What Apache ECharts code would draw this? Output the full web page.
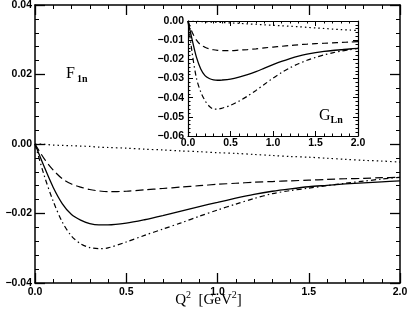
<!DOCTYPE html>
<html><head><meta charset="utf-8">
<script src="https://cdn.jsdelivr.net/npm/echarts@6/dist/echarts.min.js"></script>
<style>html,body{margin:0;padding:0;background:#fff}#c{width:411px;height:315px}</style>
</head><body><div id="c"></div>
<script>
// ---- Main panel: F1n ----
const qMain = [0, 0.05, 0.1, 0.15, 0.2, 0.25, 0.3, 0.35, 0.4, 0.5, 0.6, 0.7, 0.8, 0.9, 1.0, 1.1, 1.2, 1.3, 1.4, 1.5, 1.6, 1.7, 1.8, 1.9, 2.0];
const f1nSolid   = [0, -0.0065, -0.0125, -0.0172, -0.0203, -0.0219, -0.0229, -0.0233, -0.0233, -0.0228, -0.0218, -0.0206, -0.0193, -0.0180, -0.0168, -0.0156, -0.0145, -0.0136, -0.0129, -0.0123, -0.0119, -0.0115, -0.0112, -0.0109, -0.0106];
const f1nDashed  = [0, -0.0042, -0.0075, -0.0100, -0.0115, -0.0124, -0.0131, -0.0135, -0.0137, -0.0136, -0.0132, -0.0128, -0.0124, -0.0120, -0.0116, -0.0113, -0.0110, -0.0108, -0.0106, -0.0104, -0.0102, -0.0100, -0.0099, -0.0097, -0.0096];
const f1nDotted  = [0, -0.0001, -0.0003, -0.0004, -0.0005, -0.0006, -0.0007, -0.0009, -0.0010, -0.0012, -0.0015, -0.0017, -0.0020, -0.0022, -0.0025, -0.0027, -0.0030, -0.0033, -0.0036, -0.0038, -0.0041, -0.0044, -0.0047, -0.0049, -0.0052];
const f1nDashDot = [0, -0.0090, -0.0165, -0.0225, -0.0265, -0.0287, -0.0298, -0.0301, -0.0299, -0.0282, -0.0263, -0.0245, -0.0227, -0.0208, -0.0190, -0.0173, -0.0157, -0.0143, -0.0134, -0.0127, -0.0120, -0.0113, -0.0107, -0.0101, -0.0096];
// ---- Inset panel: GLn ----
const qInset = [0, 0.05, 0.1, 0.15, 0.2, 0.25, 0.3, 0.35, 0.4, 0.5, 0.6, 0.7, 0.8, 0.9, 1.0, 1.1, 1.2, 1.3, 1.4, 1.5, 1.6, 1.7, 1.8, 1.9, 2.0];
const glnSolid   = [0, -0.0100, -0.0190, -0.0250, -0.0285, -0.0300, -0.0307, -0.0309, -0.0308, -0.0303, -0.0293, -0.0280, -0.0264, -0.0246, -0.0228, -0.0211, -0.0196, -0.0183, -0.0173, -0.0165, -0.0159, -0.0154, -0.0150, -0.0146, -0.0143];
const glnDashed  = [0, -0.0060, -0.0100, -0.0125, -0.0137, -0.0145, -0.0150, -0.0153, -0.0155, -0.0155, -0.0152, -0.0149, -0.0145, -0.0140, -0.0136, -0.0132, -0.0128, -0.0124, -0.0121, -0.0118, -0.0116, -0.0114, -0.0112, -0.0110, -0.0108];
const glnDotted  = [0, -0.0001, -0.0002, -0.0003, -0.0004, -0.0005, -0.0006, -0.0007, -0.0008, -0.0010, -0.0012, -0.0015, -0.0017, -0.0020, -0.0022, -0.0025, -0.0027, -0.0030, -0.0033, -0.0036, -0.0039, -0.0042, -0.0045, -0.0047, -0.0050];
const glnDashDot = [0, -0.0170, -0.0300, -0.0370, -0.0415, -0.0445, -0.0459, -0.0460, -0.0455, -0.0440, -0.0418, -0.0392, -0.0362, -0.0330, -0.0298, -0.0269, -0.0244, -0.0223, -0.0205, -0.0190, -0.0177, -0.0166, -0.0157, -0.0150, -0.0143];

const pair = (xs, ys) => xs.map((x, i) => [x, ys[i]]);
const fmtY = v => (v < -1e-9 ? '\u2212' : '') + Math.abs(v).toFixed(2);
const fmtX = v => v.toFixed(1);
const LABEL_FONT = { fontFamily: 'Liberation Sans', fontWeight: 'bold', fontSize: 10.5, color: '#000' };

function ax(o) {
  const big = o.big;
  return {
    type: 'value', gridIndex: o.grid, position: o.pos, min: o.min, max: o.max, interval: o.interval,
    axisLine: { show: true, onZero: false, lineStyle: { color: '#000', width: big ? 1.5 : 1.2 } },
    axisTick: { show: true, inside: true, length: big ? 10 : 5, lineStyle: { color: '#000', width: big ? 1.3 : 1 } },
    minorTick: { show: true, splitNumber: 5, length: big ? 4 : 2.5, lineStyle: { color: '#000', width: 1 } },
    splitLine: { show: false }, minorSplitLine: { show: false },
    axisLabel: Object.assign({ show: !!o.fmt, formatter: o.fmt, margin: o.margin || 5 }, LABEL_FONT)
  };
}

const line = (name, data, xi, yi, type, w) => ({
  name, type: 'line', xAxisIndex: xi, yAxisIndex: yi, data, symbol: 'none', smooth: 0.3,
  lineStyle: { color: '#000', width: w || 1.2, type }, z: 3
});

const chart = echarts.init(document.getElementById('c'), null, { renderer: 'canvas' });
chart.setOption({
  animation: false,
  backgroundColor: '#fff',
  grid: [
    { left: 35, right: 11, top: 5, bottom: 32, containLabel: false, outerBoundsMode: 'none' },
    { left: 188, right: 53, top: 21, bottom: 179, containLabel: false, outerBoundsMode: 'none', show: true, backgroundColor: '#fff', borderWidth: 0, z: 5 }
  ],
  xAxis: [
    ax({ grid: 0, pos: 'bottom', min: 0, max: 2, interval: 0.5, big: true, fmt: fmtX, margin: 4 }),
    ax({ grid: 0, pos: 'top', min: 0, max: 2, interval: 0.5, big: true }),
    Object.assign(ax({ grid: 1, pos: 'bottom', min: 0, max: 2, interval: 0.5, fmt: fmtX, margin: 2 }), { z: 6 }),
    Object.assign(ax({ grid: 1, pos: 'top', min: 0, max: 2, interval: 0.5 }), { z: 6 })
  ],
  yAxis: [
    ax({ grid: 0, pos: 'left', min: -0.04, max: 0.04, interval: 0.02, big: true, fmt: fmtY, margin: 3 }),
    ax({ grid: 0, pos: 'right', min: -0.04, max: 0.04, interval: 0.02, big: true }),
    Object.assign(ax({ grid: 1, pos: 'left', min: -0.06, max: 0, interval: 0.01, fmt: fmtY, margin: 4 }), { z: 6 }),
    Object.assign(ax({ grid: 1, pos: 'right', min: -0.06, max: 0, interval: 0.01 }), { z: 6 })
  ],
  series: [
    line('F1n solid', pair(qMain, f1nSolid), 0, 0, 'solid', 1.3),
    line('F1n dashed', pair(qMain, f1nDashed), 0, 0, [8, 4]),
    line('F1n dotted', pair(qMain, f1nDotted), 0, 0, [1.5, 3]),
    line('F1n dash-dot', pair(qMain, f1nDashDot), 0, 0, [5, 3, 1.5, 3]),
    Object.assign(line('GLn solid', pair(qInset, glnSolid), 2, 2, 'solid', 1.3), { z: 7 }),
    Object.assign(line('GLn dashed', pair(qInset, glnDashed), 2, 2, [6, 4]), { z: 7 }),
    Object.assign(line('GLn dotted', pair(qInset, glnDotted), 2, 2, [1.5, 3]), { z: 7 }),
    Object.assign(line('GLn dash-dot', pair(qInset, glnDashDot), 2, 2, [5, 3, 1.5, 3]), { z: 7 })
  ],
  graphic: [
    { type: 'text', z: 10, style: { text: 'F', x: 66, y: 73.5, font: '16px "Liberation Serif"', fill: '#000', textVerticalAlign: 'middle', verticalAlign: 'middle' } },
    { type: 'text', z: 10, style: { text: '1n', x: 77, y: 79.5, font: 'bold 10px "Liberation Serif"', fill: '#000', textVerticalAlign: 'middle', verticalAlign: 'middle' } },
    { type: 'text', z: 10, style: { text: 'G', x: 319, y: 116, font: '16px "Liberation Serif"', fill: '#000', textVerticalAlign: 'middle', verticalAlign: 'middle' } },
    { type: 'text', z: 10, style: { text: 'Ln', x: 330.5, y: 120, font: 'bold 10px "Liberation Serif"', fill: '#000', textVerticalAlign: 'middle', verticalAlign: 'middle' } },
    { type: 'text', z: 10, style: {
        text: '{m|Q}{s|2}{m|  [GeV}{s|2}{m|]}', x: 208.5, y: 299,
        textAlign: 'center', align: 'center', textVerticalAlign: 'middle', verticalAlign: 'middle',
        rich: {
          m: { fontFamily: 'Liberation Serif', fontSize: 15, fill: '#000', color: '#000', lineHeight: 18, verticalAlign: 'bottom' },
          s: { fontFamily: 'Liberation Serif', fontSize: 10, fill: '#000', color: '#000', lineHeight: 18, verticalAlign: 'top' }
        } } }
  ]
});
</script></body></html>
